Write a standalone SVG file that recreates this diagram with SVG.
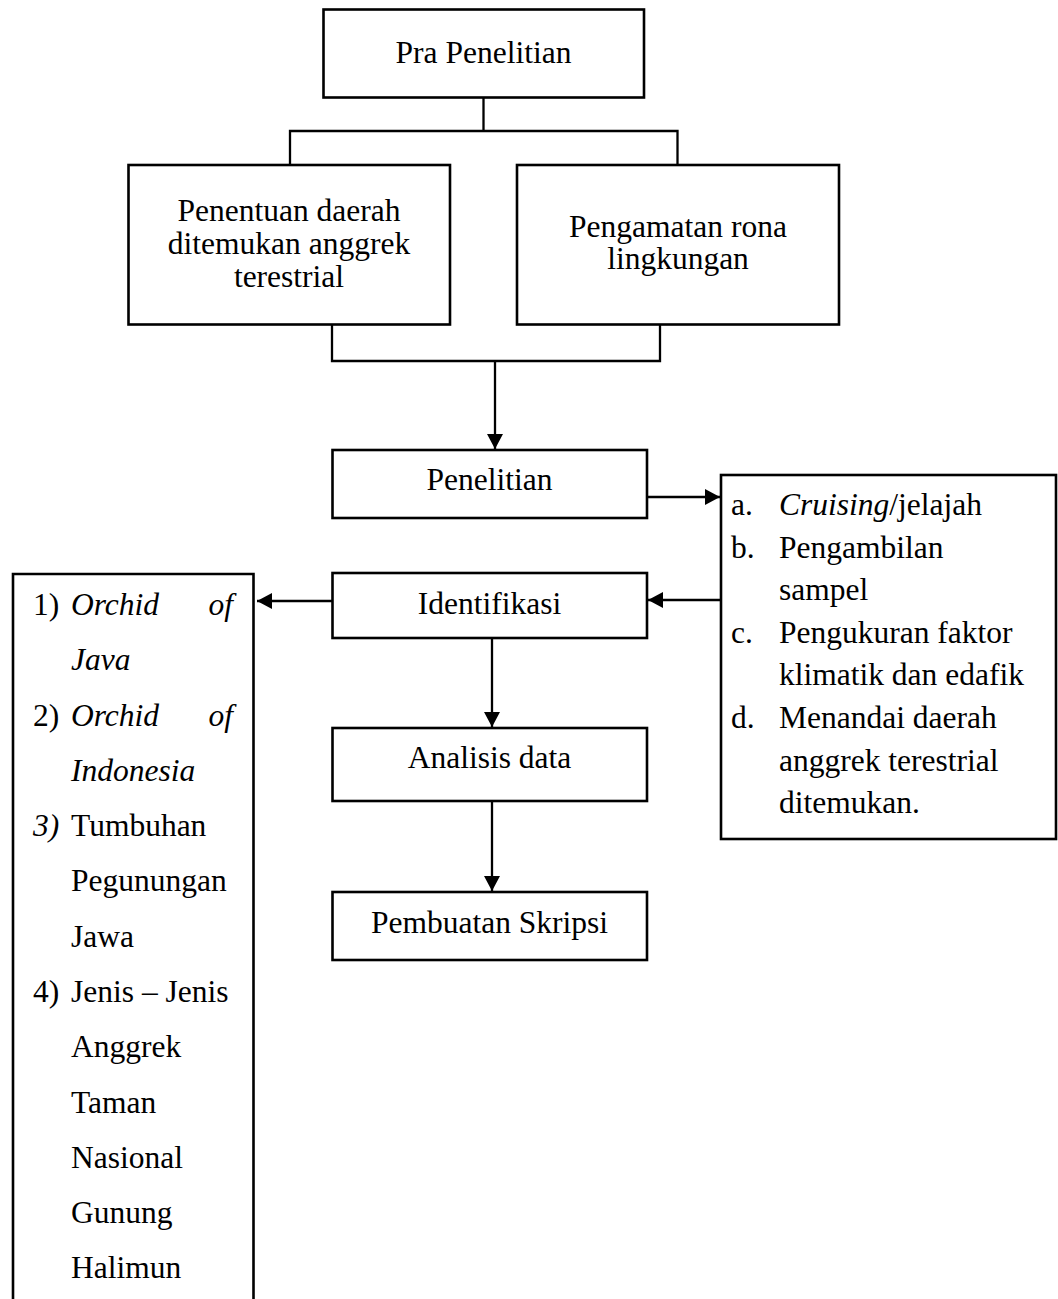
<svg xmlns="http://www.w3.org/2000/svg" width="1058" height="1299" viewBox="0 0 1058 1299">
<style>
text{font-family:"Liberation Serif","Times New Roman",serif;font-size:31.5px;fill:#000}
.c{text-anchor:middle}
.i{font-style:italic}
.box{fill:#fff;stroke:#000;stroke-width:2.6}
.ln{fill:none;stroke:#000;stroke-width:2.3}
</style>
<defs>
<marker id="ah" markerUnits="userSpaceOnUse" markerWidth="16" markerHeight="17" refX="15" refY="8" orient="auto">
<path d="M0,0 L15,8 L0,16 z" fill="#000"/>
</marker>
</defs>
<rect width="1058" height="1299" fill="#fff"/>
<g id="connectors">
<path class="ln" d="M483.5,97 V131 M290,165 V131 H677.5 V165"/>
<path class="ln" d="M332,324 V361 H660 V324"/>
<path class="ln" d="M495,361 V449" marker-end="url(#ah)"/>
<path class="ln" d="M647,497 H720" marker-end="url(#ah)"/>
<path class="ln" d="M721,600 H648" marker-end="url(#ah)"/>
<path class="ln" d="M332,601 H257" marker-end="url(#ah)"/>
<path class="ln" d="M492,638 V727" marker-end="url(#ah)"/>
<path class="ln" d="M492,801 V891" marker-end="url(#ah)"/>
</g>
<g id="pra">
<rect class="box" x="323.5" y="9.5" width="320.5" height="88"/>
<text class="c" x="483.5" y="63">Pra Penelitian</text>
</g>
<g id="penentuan">
<rect class="box" x="128.5" y="165" width="321.5" height="159.5"/>
<text class="c" x="289" y="221">Penentuan daerah</text>
<text class="c" x="289" y="254">ditemukan anggrek</text>
<text class="c" x="289" y="287">terestrial</text>
</g>
<g id="pengamatan">
<rect class="box" x="517" y="165" width="322" height="159.5"/>
<text class="c" x="678" y="237">Pengamatan rona</text>
<text class="c" x="678" y="269">lingkungan</text>
</g>
<g id="penelitian">
<rect class="box" x="332.5" y="450" width="314.5" height="68"/>
<text class="c" x="489.5" y="490">Penelitian</text>
</g>
<g id="langkah">
<rect class="box" x="721" y="475" width="335" height="364"/>
<text x="731" y="515">a.</text><text x="779" y="515"><tspan class="i">Cruising</tspan>/jelajah</text>
<text x="731" y="557.5">b.</text><text x="779" y="557.5">Pengambilan</text>
<text x="779" y="600">sampel</text>
<text x="731" y="643">c.</text><text x="779" y="643">Pengukuran faktor</text>
<text x="779" y="685">klimatik dan edafik</text>
<text x="731" y="728">d.</text><text x="779" y="728">Menandai daerah</text>
<text x="779" y="770.5">anggrek terestrial</text>
<text x="779" y="813">ditemukan.</text>
</g>
<g id="identifikasi">
<rect class="box" x="332.5" y="573" width="314.5" height="65"/>
<text class="c" x="489.5" y="614">Identifikasi</text>
</g>
<g id="referensi">
<path class="box" d="M13,1310 V574 H253.5 V1310"/>
<text x="33" y="615">1)</text><text class="i" x="71" y="615">Orchid</text><text class="i" x="233" y="615" text-anchor="end">of</text>
<text class="i" x="71" y="670">Java</text>
<text x="33" y="725.5">2)</text><text class="i" x="71" y="725.5">Orchid</text><text class="i" x="233" y="725.5" text-anchor="end">of</text>
<text class="i" x="71" y="781">Indonesia</text>
<text x="33" y="836"><tspan class="i">3)</tspan></text><text x="71" y="836">Tumbuhan</text>
<text x="71" y="891">Pegunungan</text>
<text x="71" y="946.5">Jawa</text>
<text x="33" y="1002">4)</text><text x="71" y="1002">Jenis – Jenis</text>
<text x="71" y="1057">Anggrek</text>
<text x="71" y="1112.5">Taman</text>
<text x="71" y="1167.5">Nasional</text>
<text x="71" y="1223">Gunung</text>
<text x="71" y="1278">Halimun</text>
</g>
<g id="analisis">
<rect class="box" x="332.5" y="728" width="314.5" height="73"/>
<text class="c" x="489.5" y="768">Analisis data</text>
</g>
<g id="skripsi">
<rect class="box" x="332.5" y="892" width="314.5" height="68"/>
<text class="c" x="489.5" y="933">Pembuatan Skripsi</text>
</g>
</svg>
